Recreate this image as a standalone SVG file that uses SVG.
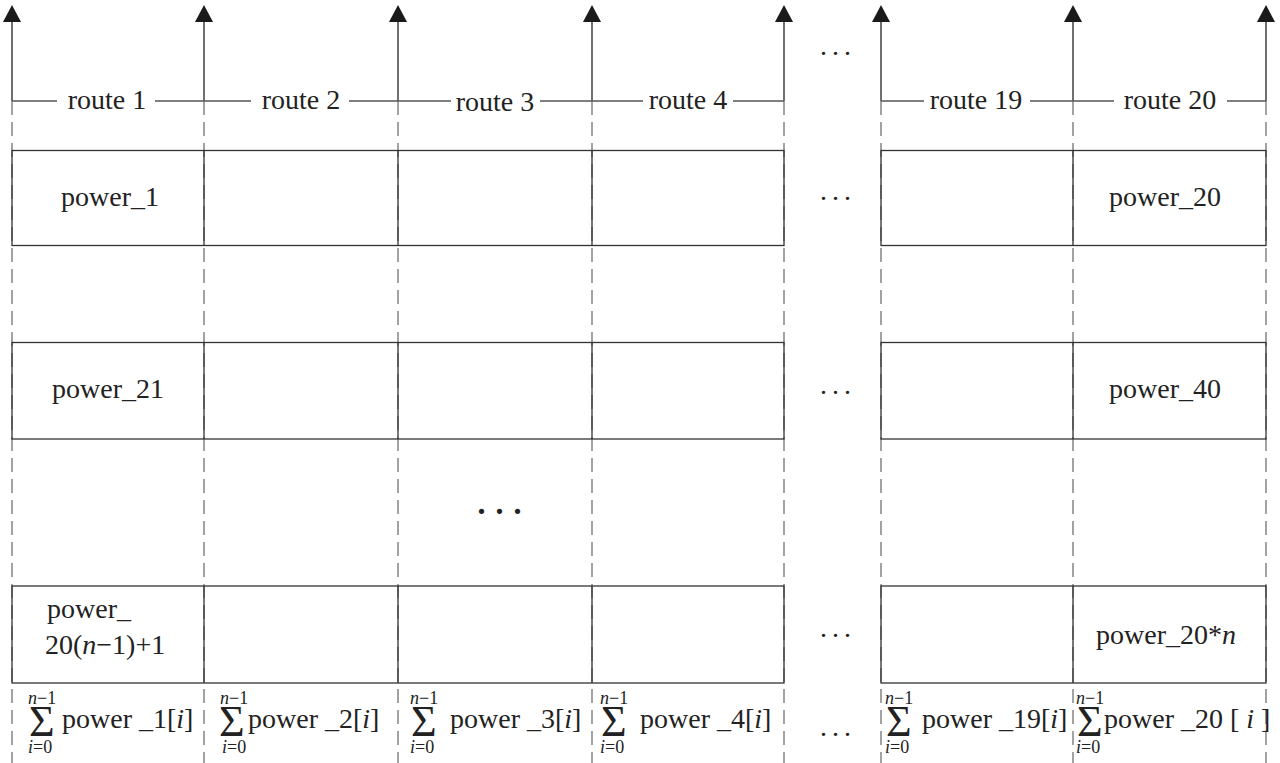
<svg xmlns="http://www.w3.org/2000/svg" width="1280" height="763" viewBox="0 0 1280 763">
<defs>
<marker id="arr" markerUnits="userSpaceOnUse" markerWidth="20" markerHeight="20" refX="0" refY="9" orient="auto">
<path d="M0,0 L17,9 L0,18 z" fill="#1a1a1a"/>
</marker>
<style>
.t{font-family:"Liberation Serif","Times New Roman",serif;font-size:28px;fill:#222}
.sig{font-family:"Liberation Serif","Times New Roman",serif;font-size:44px;fill:#222}
.sm{font-family:"Liberation Serif","Times New Roman",serif;font-size:18px;fill:#222}
.it{font-style:italic}
.ax{stroke:#222;stroke-width:1.3;fill:none}
.rl{stroke:#555;stroke-width:1.3;fill:none}
.dash{stroke:#666;stroke-width:1.2;stroke-dasharray:14 7;fill:none}
.box{stroke:#333;stroke-width:1.3;fill:none}
.dots{font-family:"Liberation Serif","Times New Roman",serif;font-size:28px;fill:#222;letter-spacing:5px}
</style>
</defs>
<rect width="1280" height="763" fill="#fff"/>
<g id="connectors">
<g id="axes">
<line class="ax" x1="12" y1="101" x2="12" y2="22" marker-end="url(#arr)"/>
<line class="ax" x1="204" y1="101" x2="204" y2="22" marker-end="url(#arr)"/>
<line class="ax" x1="398" y1="101" x2="398" y2="22" marker-end="url(#arr)"/>
<line class="ax" x1="592" y1="101" x2="592" y2="22" marker-end="url(#arr)"/>
<line class="ax" x1="784" y1="101" x2="784" y2="22" marker-end="url(#arr)"/>
<line class="ax" x1="881" y1="101" x2="881" y2="22" marker-end="url(#arr)"/>
<line class="ax" x1="1073" y1="101" x2="1073" y2="22" marker-end="url(#arr)"/>
<line class="ax" x1="1266" y1="101" x2="1266" y2="22" marker-end="url(#arr)"/>
</g>
<g id="route-lines">
<path class="rl" d="M12,101H57M155,101H204M204,101H251M349,101H398M398,101H451M540,101H592M592,101H643M733,101H784M881,101H924M1030,101H1073M1073,101H1114M1227,101H1266"/>
</g>
<g id="dashed">
<line class="dash" x1="12" y1="101" x2="12" y2="763"/>
<line class="dash" x1="204" y1="101" x2="204" y2="763"/>
<line class="dash" x1="398" y1="101" x2="398" y2="763"/>
<line class="dash" x1="592" y1="101" x2="592" y2="763"/>
<line class="dash" x1="784" y1="101" x2="784" y2="763"/>
<line class="dash" x1="881" y1="101" x2="881" y2="763"/>
<line class="dash" x1="1073" y1="101" x2="1073" y2="763"/>
<line class="dash" x1="1266" y1="101" x2="1266" y2="763"/>
</g>
</g>
<g id="route-labels">
<text class="t" x="107" y="109" text-anchor="middle">route 1</text>
<text class="t" x="301" y="109" text-anchor="middle">route 2</text>
<text class="t" x="495" y="111" text-anchor="middle">route 3</text>
<text class="t" x="688" y="109" text-anchor="middle">route 4</text>
<text class="t" x="976" y="109" text-anchor="middle">route 19</text>
<text class="t" x="1170" y="109" text-anchor="middle">route 20</text>
</g>
<g id="row-1">
<rect class="box" x="12" y="150.5" width="772" height="95"/>
<rect class="box" x="881" y="150.5" width="385" height="95"/>
<path class="box" d="M204,150.5V245.5M398,150.5V245.5M592,150.5V245.5M1073,150.5V245.5"/>
<text class="t" x="110" y="206" text-anchor="middle">power_1</text>
<text class="t" x="1165" y="206" text-anchor="middle">power_20</text>
</g>
<g id="row-2">
<rect class="box" x="12" y="342.5" width="772" height="96.5"/>
<rect class="box" x="881" y="342.5" width="385" height="96.5"/>
<path class="box" d="M204,342.5V439M398,342.5V439M592,342.5V439M1073,342.5V439"/>
<text class="t" x="108" y="398" text-anchor="middle">power_21</text>
<text class="t" x="1165" y="398" text-anchor="middle">power_40</text>
</g>
<g id="row-n">
<rect class="box" x="12" y="586" width="772" height="97"/>
<rect class="box" x="881" y="586" width="385" height="97"/>
<path class="box" d="M204,586V683M398,586V683M592,586V683M1073,586V683"/>
<text class="t" x="47" y="618">power_</text>
<text class="t" x="45" y="654">20(<tspan class="it">n</tspan>−1)+1</text>
<text class="t" x="1096" y="644">power_20*<tspan class="it">n</tspan></text>
</g>
<g id="ellipses">
<text class="dots" x="820" y="55">...</text>
<text class="dots" x="820" y="200">...</text>
<text class="dots" x="820" y="394">...</text>
<text class="dots" x="820" y="637">...</text>
<text class="dots" x="820" y="736">...</text>
<text x="476" y="514" style="font-family:'Liberation Serif',serif;font-size:44px;fill:#222;letter-spacing:7px">...</text>
</g>
<g id="sums">
<g id="sum-1">
<text class="sm" x="28" y="704"><tspan class="it">n</tspan>−1</text>
<text class="sig" x="29" y="736">Σ</text>
<text class="sm" x="28" y="753"><tspan class="it">i</tspan>=0</text>
<text class="t" x="62" y="728">power _1[<tspan class="it">i</tspan>]</text>
</g>
<g id="sum-2">
<text class="sm" x="220" y="704"><tspan class="it">n</tspan>−1</text>
<text class="sig" x="219" y="736">Σ</text>
<text class="sm" x="222" y="753"><tspan class="it">i</tspan>=0</text>
<text class="t" x="248" y="728">power _2[<tspan class="it">i</tspan>]</text>
</g>
<g id="sum-3">
<text class="sm" x="410" y="704"><tspan class="it">n</tspan>−1</text>
<text class="sig" x="411" y="736">Σ</text>
<text class="sm" x="410" y="753"><tspan class="it">i</tspan>=0</text>
<text class="t" x="450" y="728">power _3[<tspan class="it">i</tspan>]</text>
</g>
<g id="sum-4">
<text class="sm" x="600" y="704"><tspan class="it">n</tspan>−1</text>
<text class="sig" x="601" y="736">Σ</text>
<text class="sm" x="600" y="753"><tspan class="it">i</tspan>=0</text>
<text class="t" x="640" y="728">power _4[<tspan class="it">i</tspan>]</text>
</g>
<g id="sum-19">
<text class="sm" x="885" y="704"><tspan class="it">n</tspan>−1</text>
<text class="sig" x="886" y="736">Σ</text>
<text class="sm" x="885" y="753"><tspan class="it">i</tspan>=0</text>
<text class="t" x="922" y="728">power _19[<tspan class="it">i</tspan>]</text>
</g>
<g id="sum-20">
<text class="sm" x="1076" y="704"><tspan class="it">n</tspan>−1</text>
<text class="sig" x="1077" y="736">Σ</text>
<text class="sm" x="1076" y="753"><tspan class="it">i</tspan>=0</text>
<text class="t" x="1104" y="728">power _20 [ <tspan class="it">i</tspan> ]</text>
</g>
</g>
</svg>
